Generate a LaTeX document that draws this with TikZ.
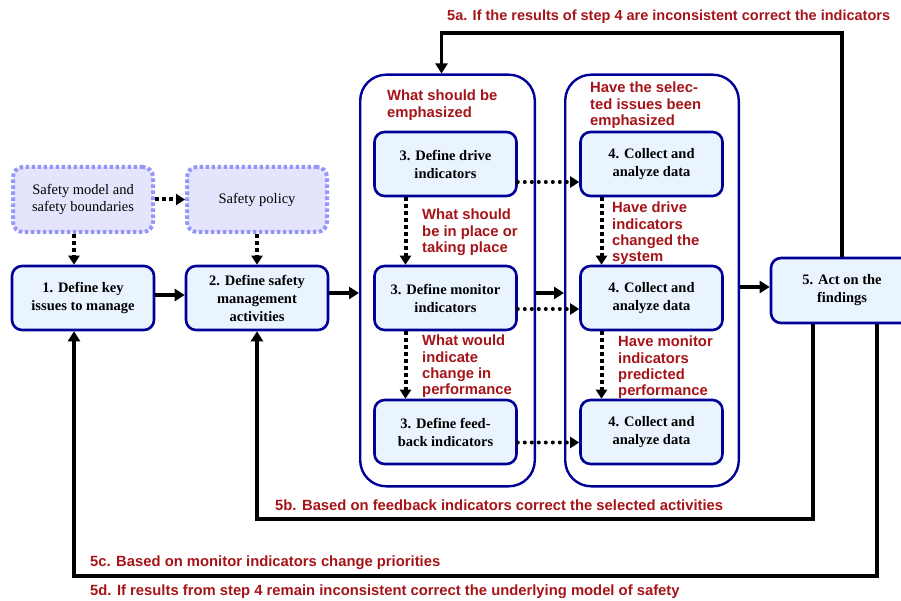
\documentclass[tikz,border=0pt]{standalone}
\usepackage{fontspec}
\setmainfont{Liberation Serif}
\newfontfamily\notefont{Liberation Sans}
\usetikzlibrary{arrows.meta, positioning, fit, backgrounds}

\definecolor{stepblue}{RGB}{0,0,150}
\definecolor{stepfill}{RGB}{234,244,255}
\definecolor{basedraw}{RGB}{150,150,250}
\definecolor{basefill}{RGB}{228,228,252}
\definecolor{notered}{RGB}{165,20,25}

\begin{document}
\begin{tikzpicture}[x=1pt, y=-1pt,
		stepbox/.style={rectangle, rounded corners=10pt, draw=stepblue, fill=stepfill, line width=2.6pt, minimum width=142pt, minimum height=64pt, align=center, inner sep=2pt, font=\fontsize{14.5}{18}\selectfont\bfseries},
		basebox/.style={rectangle, rounded corners=10pt, draw=basedraw, fill=basefill, line width=4pt, dash pattern=on 3.5pt off 2.5pt, minimum width=140pt, minimum height=65pt, align=center, font=\fontsize{14.5}{17.5}\selectfont},
		stage/.style={rectangle, rounded corners=26pt, draw=stepblue, line width=2.4pt, inner sep=0pt},
		note/.style={text=notered, align=left, inner sep=0pt, font=\notefont\fontsize{14.8}{16.3}\selectfont\bfseries},
		flow/.style={-{Triangle[length=10pt, width=12pt]}, line width=4pt},
		feed/.style={-{Triangle[length=10pt, width=12pt]}, line width=3.5pt},
		hint/.style={-{Triangle[length=9pt, width=11pt]}, line width=4pt, dash pattern=on 4pt off 3pt},
		link/.style={-{Triangle[length=9pt, width=11pt]}, line width=4pt, line cap=round, dash pattern=on 0pt off 7pt}
		]
		\useasboundingbox (0,0) rectangle (901,601);
		\clip (0,0) rectangle (901,601);
		
		% steps 1 and 2
		\node [stepbox] (define key) at (83,298) {1. Define key\\issues to manage};
		\node [stepbox] (define activities) [right=29.4pt of define key] {2. Define safety\\management\\activities};
		\node [basebox] (model) [above=30.7pt of define key] {Safety model and\\safety boundaries};
		\node [basebox] (policy) [above=30.7pt of define activities] {Safety policy};
		
		% step 3
		\node [stepbox] (drive) at (445.5,164) {3. Define drive\\indicators};
		\node [stepbox] (monitor) [below=67.4pt of drive] {3. Define monitor\\indicators};
		\node [stepbox] (feedback) [below=67.4pt of monitor] {3. Define feed-\\back indicators};
		
		% step 4
		\node [stepbox] (collect drive) [right=61.4pt of drive] {4. Collect and\\analyze data};
		\node [stepbox] (collect monitor) [right=61.4pt of monitor] {4. Collect and\\analyze data};
		\node [stepbox] (collect feedback) [right=61.4pt of feedback] {4. Collect and\\analyze data};
		
		% step 5
		\node [stepbox, minimum height=65pt] (act) at (842,290.5) {5. Act on the\\findings};
		
		\coordinate (stage3 top) at ([xshift=-13pt, yshift=56pt]drive.north west);
		\coordinate (stage3 bottom) at ([xshift=17pt, yshift=-21pt]feedback.south east);
		\coordinate (stage4 top) at ([xshift=-14pt, yshift=56pt]collect drive.north west);
		\coordinate (stage4 bottom) at ([xshift=15pt, yshift=-21pt]collect feedback.south east);
		\begin{scope}[on background layer]
			\node [stage, fit=(stage3 top) (stage3 bottom)] (stage3) {};
			\node [stage, fit=(stage4 top) (stage4 bottom)] (stage4) {};
		\end{scope}
		
		% questions
		\node [note, anchor=north west] (emphasis) at (387,90) {What should be\\emphasized};
		\node [note, anchor=north west] (in place) at (422,209) {What should\\be in place or\\taking place};
		\node [note, anchor=north west] (change) at (422,335) {What would\\indicate\\change in\\performance};
		\node [note, anchor=north west] (emphasized) at (590,82) {Have the selec-\\ted issues been\\emphasized};
		\node [note, anchor=north west] (changed) at (612,202) {Have drive\\indicators\\changed the\\system};
		\node [note, anchor=north west] (predicted) at (618,336) {Have monitor\\indicators\\predicted\\performance};
		
		% forward flow
		\draw [hint] ([xshift=-9pt]model.south) -- ([xshift=-9pt]define key.north);
		\draw [hint] (model) -- (policy);
		\draw [hint] (policy) -- (define activities);
		\draw [flow] ([yshift=3pt]define key.east) -- ([yshift=3pt]define activities.west);
		\draw [flow] ([yshift=5pt]define activities.east) -- ([yshift=5pt]define activities.east -| stage3.west);
		\draw [hint] ([xshift=-40pt]drive.south) -- ([xshift=-40pt]monitor.north);
		\draw [hint] ([xshift=-40pt]monitor.south) -- ([xshift=-40pt]feedback.north);
		\draw [hint] ([xshift=-50pt]collect drive.south) -- ([xshift=-50pt]collect monitor.north);
		\draw [hint] ([xshift=-50pt]collect monitor.south) -- ([xshift=-50pt]collect feedback.north);
		\draw [link] ([yshift=-18pt]drive.east) -- ([yshift=-18pt]collect drive.west);
		\draw [link] ([yshift=-11pt]monitor.east) -- ([yshift=-11pt]collect monitor.west);
		\draw [link] ([yshift=-10.5pt]feedback.east) -- ([yshift=-10.5pt]collect feedback.west);
		\draw [flow] ([yshift=-12.5pt]stage3.east) -- ([yshift=-12.5pt]stage4.west);
		\draw [flow] ([yshift=-6.5pt]stage4.east) -- ([yshift=-6.5pt]stage4.east -| act.west);
		
		% feedback loops
		\coordinate (indicator loop) at (0,33);
		\coordinate (activity loop) at (0,519);
		\coordinate (priority loop) at (0,576);
		\draw [feed] (act.north) |- ([xshift=-6pt]stage3.north |- indicator loop) -- ([xshift=-6pt]stage3.north);
		\draw [feed] ([xshift=-29pt]act.south) |- (activity loop -| define activities) -- (define activities);
		\draw [feed] ([xshift=35pt]act.south) |- ([xshift=-9pt]define key.south |- priority loop) -- ([xshift=-9pt]define key.south);
		
		\node [note, anchor=west, font=\notefont\fontsize{14.5}{16}\selectfont\bfseries] (correct indicators) at (447,17) {5a. If the results of step 4 are inconsistent correct the indicators};
		\node [note, anchor=west] (correct activities) at (275,505.5) {5b. Based on feedback indicators correct the selected activities};
		\node [note, anchor=west] (change priorities) at (90,562.5) {5c. Based on monitor indicators change priorities};
		\node [note, anchor=west] (correct model) at (90,591.5) {5d. If results from step 4 remain inconsistent correct the underlying model of safety};
\end{tikzpicture}
\end{document}
